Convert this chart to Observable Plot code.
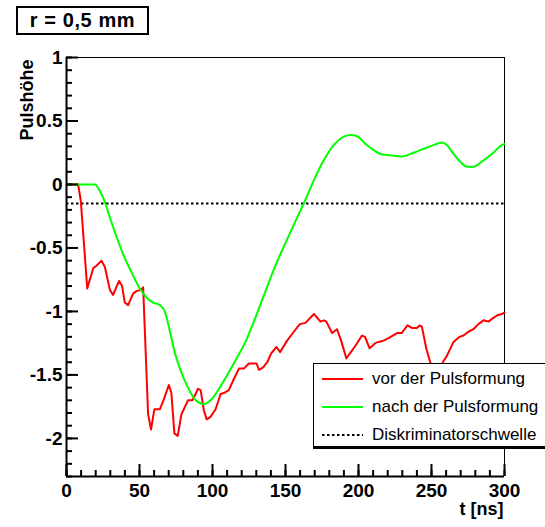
<!DOCTYPE html>
<html>
<head>
<meta charset="utf-8">
<script src="https://cdn.jsdelivr.net/npm/d3@7"></script>
<script src="https://cdn.jsdelivr.net/npm/@observablehq/plot@0.6"></script>
<style>
  html, body { margin: 0; padding: 0; background: #fff; }
  #wrap { position: relative; width: 545px; height: 527px; overflow: hidden; font-family: "Liberation Sans", Arial, Helvetica, sans-serif; }
  #title { position: absolute; left: 16px; top: 6px; width: 129px; height: 25px; border: 2px solid #000; background: #fff;
           font-weight: bold; font-size: 20px; line-height: 25px; text-align: center; letter-spacing: 0.6px; }
  #legend { position: absolute; left: 313px; top: 363px; width: 250px; height: 82px; border: 1.5px solid #000; border-bottom-width: 3px; background: #fff; }
  .row { position: absolute; left: 0; height: 28px; display: flex; align-items: center; font-size: 17px; }
  .row svg { margin-left: 8px; margin-right: 9px; }
</style>
</head>
<body>
<div id="wrap"></div>
<script>
// ---- data ----
const titleText = "r = 0,5 mm";
const xLabel = "t [ns]";
const yLabel = "Pulshöhe";
const seriesNames = ["vor der Pulsformung", "nach der Pulsformung", "Diskriminatorschwelle"];
const seriesColors = ["#ff0000", "#00ff00", "#000000"];
const threshold = -0.15;

const redT = [0, 8, 9.8, 14.2, 18.3, 20.5, 24, 26.3, 29.7, 31.9, 36, 38.1, 39.9, 42.2, 45.6, 47.9, 50.9, 52.5,
  55.9, 57.9, 60.2, 64, 66.7, 70.1, 71.8, 73.9, 76.2, 78.7, 81.6, 83.2, 86.2, 88, 90, 91.9, 94.1, 96, 98.7,
  102.1, 105.6, 108.3, 111.2, 114.7, 118.1, 121.5, 124.9, 128.3, 130.2, 131.8, 134.7, 137.5, 140.2, 143.8,
  146.3, 151.1, 155.7, 159.8, 163.7, 169.5, 173.9, 176.2, 178, 181.9, 185.3, 188.1, 191.7, 197.9, 202.4,
  204.5, 207.6, 211.5, 213.8, 217.2, 220.6, 226.4, 229.5, 233.6, 236.5, 240, 241.9, 243.4, 246.4, 249.1,
  253, 255.5, 257.8, 260.5, 265.1, 269.2, 271.9, 275.3, 278.7, 282.1, 285.6, 289, 292.4, 295.1, 298.2, 300];
const redV = [0, 0, -0.13, -0.82, -0.66, -0.64, -0.60, -0.65, -0.83, -0.87, -0.76, -0.80, -0.93, -0.95, -0.86, -0.84, -0.83, -0.81,
  -1.81, -1.93, -1.77, -1.77, -1.69, -1.58, -1.64, -1.96, -1.98, -1.81, -1.74, -1.70, -1.70, -1.66, -1.61, -1.62, -1.78, -1.85, -1.83,
  -1.77, -1.65, -1.64, -1.62, -1.53, -1.45, -1.45, -1.41, -1.41, -1.41, -1.46, -1.44, -1.40, -1.33, -1.28,
  -1.32, -1.23, -1.16, -1.10, -1.09, -1.02, -1.08, -1.07, -1.08, -1.17, -1.14, -1.23, -1.37, -1.27, -1.19,
  -1.20, -1.29, -1.25, -1.24, -1.23, -1.21, -1.17, -1.17, -1.11, -1.13, -1.13, -1.11, -1.12, -1.29, -1.40,
  -1.47, -1.44, -1.40, -1.35, -1.24, -1.20, -1.19, -1.16, -1.14, -1.10, -1.07, -1.08, -1.05, -1.03, -1.02, -1.01];

const greenT = [0, 19.4, 22.8, 26.3, 29.7, 34.2, 38.8, 44.5, 50.2, 54.8, 59.3, 63.9, 67.3, 70.7, 74.1, 78, 83.2, 88.5,
  94.1, 98.7, 104.4, 110.1, 116, 122.6, 128.3, 135, 142, 150, 156, 162.5, 169.3, 176.2, 183, 188.8, 194.4, 199,
  204.7, 210.4, 215, 221.8, 229.8, 237.7, 244.5, 251.4, 257.1, 260.5, 265.1, 269.6, 274.2, 278.7, 284.5, 291.3, 298.2, 300];
const greenV = [0, 0, -0.05, -0.14, -0.26, -0.41, -0.55, -0.69, -0.82, -0.89, -0.93, -0.95, -1.00, -1.15, -1.32, -1.46, -1.60, -1.70,
  -1.73, -1.70, -1.61, -1.50, -1.38, -1.24, -1.08, -0.88, -0.67, -0.46, -0.31, -0.15, 0.03, 0.19, 0.31, 0.37, 0.39, 0.38,
  0.32, 0.27, 0.24, 0.23, 0.22, 0.25, 0.28, 0.31, 0.33, 0.31, 0.24, 0.18, 0.14, 0.14, 0.18, 0.24, 0.31, 0.32];

const xMajor = [0, 50, 100, 150, 200, 250, 300];
const xMinor = d3.range(0, 301, 10);
const yMajor = [-2, -1.5, -1, -0.5, 0, 0.5, 1];
const yMinor = d3.range(-23, 11, 1).map(d => d / 10);
const xDomain = [0, 300];
const yDomain = [-2.3, 1];

// ---- build ----
const red = redT.map((t, i) => ({t, v: redV[i]}));
const green = greenT.map((t, i) => ({t, v: greenV[i]}));
const fmt = d => String(d);

const chart = Plot.plot({
  width: 545, height: 527,
  marginLeft: 66, marginRight: 41, marginTop: 57, marginBottom: 51,
  style: {fontFamily: "'Liberation Sans', Arial, Helvetica, sans-serif", fontSize: "18px", background: "transparent", color: "#000"},
  x: {domain: xDomain},
  y: {domain: yDomain},
  marks: [
    Plot.ruleY([yDomain[1]], {stroke: "#000", strokeWidth: 1}),
    Plot.ruleX([xDomain[1]], {stroke: "#000", strokeWidth: 1}),
    Plot.ruleY([threshold], {stroke: seriesColors[2], strokeWidth: 2, strokeDasharray: "2.5,2.5"}),
    Plot.line(red, {x: "t", y: "v", stroke: seriesColors[0], strokeWidth: 2, strokeLinejoin: "round"}),
    Plot.line(green, {x: "t", y: "v", stroke: seriesColors[1], strokeWidth: 2, curve: "monotone-x"}),
    Plot.axisX({anchor: "bottom", ticks: xMinor, tickSize: -6, strokeWidth: 2, tickFormat: () => "", label: null}),
    Plot.axisX({anchor: "bottom", ticks: xMajor, tickSize: -12, strokeWidth: 2, tickFormat: () => "", label: null}),
    Plot.axisX({anchor: "bottom", ticks: xMajor, tickSize: 0, tickPadding: 7, tickFormat: fmt, fontWeight: "bold", fontSize: 19, label: null}),
    Plot.axisY({anchor: "left", ticks: yMinor, tickSize: -6, strokeWidth: 2, tickFormat: () => "", label: null}),
    Plot.axisY({anchor: "left", ticks: yMajor, tickSize: -12, strokeWidth: 2, tickFormat: () => "", label: null}),
    Plot.axisY({anchor: "left", ticks: yMajor, tickSize: 0, tickPadding: 4, tickFormat: fmt, fontWeight: "bold", fontSize: 19, label: null}),
    Plot.ruleX([xDomain[0]], {stroke: "#000", strokeWidth: 2}),
    Plot.ruleY([yDomain[0]], {stroke: "#000", strokeWidth: 2}),
    Plot.text([yLabel], {frameAnchor: "top-left", text: d => d, rotate: -90, textAnchor: "end", dx: -46, dy: 2, fontWeight: "bold", fontSize: 18}),
    Plot.text([xLabel], {frameAnchor: "bottom-right", text: d => d, textAnchor: "end", dx: -1, dy: 38, fontWeight: "bold", fontSize: 18})
  ]
});

const wrap = document.getElementById("wrap");
wrap.appendChild(chart);

const title = document.createElement("div");
title.id = "title";
title.textContent = titleText;
wrap.appendChild(title);

const legend = document.createElement("div");
legend.id = "legend";
seriesNames.forEach((name, i) => {
  const row = document.createElement("div");
  row.className = "row";
  row.style.top = (1 + i * 28) + "px";
  const dash = i === 2 ? ' stroke-dasharray="2.5,2.5"' : "";
  row.innerHTML = `<svg width="41" height="4"><line x1="0" y1="2" x2="41" y2="2" stroke="${seriesColors[i]}" stroke-width="2"${dash}/></svg><span>${name}</span>`;
  legend.appendChild(row);
});
wrap.appendChild(legend);
</script>
</body>
</html>
